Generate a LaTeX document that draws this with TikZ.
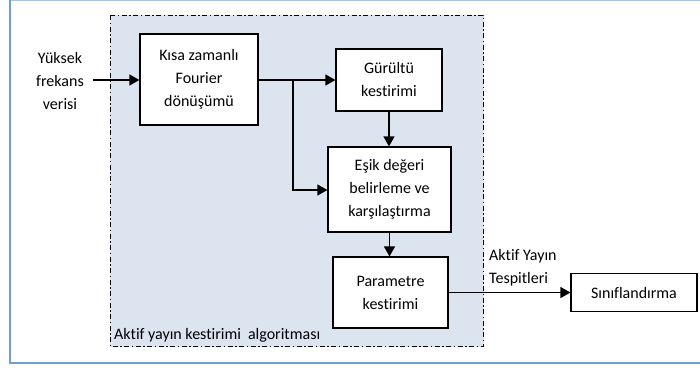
\documentclass[tikz,border=0pt]{standalone}
\usepackage{fontspec}
\setmainfont[Ligatures=NoCommon]{Carlito}
\usetikzlibrary{arrows.meta}
\definecolor{framecol}{HTML}{729CD4}
\definecolor{algofill}{HTML}{DCE4F0}
\tikzset{
  blk/.style={draw=black, line width=1.2pt, fill=white, align=center, font=\fontsize{16}{23}\selectfont},
  lbl/.style={align=center, font=\fontsize{16}{23}\selectfont, inner sep=0pt},
  flow/.style={line width=1.2pt, -{Triangle[length=10pt,width=11pt]}},
}
\begin{document}
\begin{tikzpicture}[x=1pt,y=-1pt]
\useasboundingbox (0,0) rectangle (700,367);
% outer frame
\draw[framecol!60, line width=1.5pt] (10,0.5) -- (700,0.5);
\draw[framecol, line width=2pt] (10,0) -- (10,362.5) -- (700,362.5);
% algorithm region
\draw[algofill, fill=algofill] (110,15) rectangle (483,346);
\draw[line width=1pt, dash pattern=on 5pt off 2.5pt on 1.5pt off 2.5pt] (110,15) rectangle (483,346);
\node[lbl, anchor=south west] (algo) at (114,342) {Aktif yayın kestirimi\hspace{7pt}algoritması};
% blocks
\node[blk, minimum width=118pt, minimum height=91pt] (stft) at (199,79.5) {Kısa zamanlı\\Fourier\\dönüşümü};
\node[blk, minimum width=106pt, minimum height=62pt] (noise) at (389,80) {Gürültü\\kestirimi};
\node[blk, minimum width=123pt, minimum height=85pt] (thr) at (389.5,189.5) {Eşik değeri\\belirleme ve\\karşılaştırma};
\node[blk, minimum width=115pt, minimum height=71pt] (par) at (390.5,292.5) {Parametre\\kestirimi};
\node[blk, minimum width=126pt, minimum height=38pt] (cls) at (634,292.5) {Sınıflandırma};
% input label
\node[lbl] (inp) at (60,81) {Yüksek\\frekans\\verisi};
\coordinate (inend) at (93,80);
\coordinate (split) at (293,80);
% connectors
\draw[flow] (inend) -- (stft.west |- inend);
\draw[flow] (stft.east |- split) -- (noise.west |- split);
\draw[flow] (split) |- (thr.west |- 0,190);
\draw[flow] (noise.south) -- (thr.north -| noise.south);
\draw[flow] (thr.south) -- (par.north -| thr.south);
\draw[flow] (par.east) -- (cls.west);
\node[lbl, align=left, anchor=south west] (out) at (489,286) {Aktif Yayın\\Tespitleri};
\end{tikzpicture}
\end{document}
